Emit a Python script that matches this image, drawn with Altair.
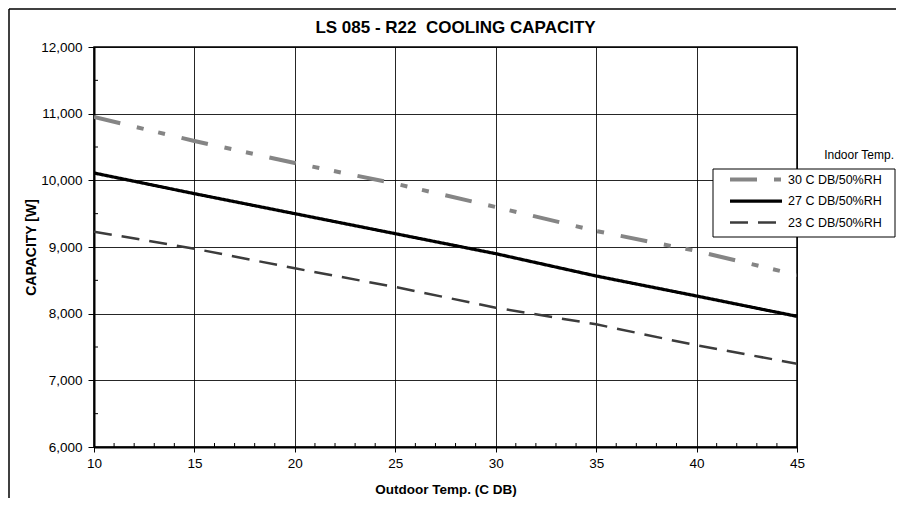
import altair as alt
import pandas as pd

# ---- data ----
outdoor = [10, 15, 20, 25, 30, 35, 40, 45]
cap_30 = [10950, 10590, 10260, 9950, 9600, 9240, 8940, 8580]
cap_27 = [10110, 9800, 9500, 9200, 8900, 8565, 8265, 7960]
cap_23 = [9230, 8975, 8680, 8400, 8090, 7840, 7525, 7250]
series_names = ["30 C DB/50%RH", "27 C DB/50%RH", "23 C DB/50%RH"]
x_ticks = [10, 15, 20, 25, 30, 35, 40, 45]
y_ticks = [6000, 7000, 8000, 9000, 10000, 11000, 12000]
x_minor = [v for v in range(10, 46) if v % 5 != 0]
y_minor = [6500, 7500, 8500, 9500, 10500, 11500]
title_text = "LS 085 - R22\u00a0 COOLING CAPACITY"
legend_title = "Indoor Temp."

rows = []
for name, vals in zip(series_names, [cap_30, cap_27, cap_23]):
    for x, y in zip(outdoor, vals):
        rows.append({"series": name, "outdoor": x, "capacity": y})
df = pd.DataFrame(rows)

W, H = 703, 400
FONT = "Liberation Sans"

xscale = alt.Scale(domain=[10, 45], nice=False, zero=False)
yscale = alt.Scale(domain=[6000, 12000], nice=False, zero=False)
color_scale = alt.Scale(domain=series_names, range=["#858585", "#000000", "#3c3c3c"])
dash_scale = alt.Scale(domain=series_names, range=[[27, 17, 7, 15, 7, 17], [1, 0], [18, 10]])
width_scale = alt.Scale(domain=series_names, range=[4, 2.5, 2.5])

x_axis = alt.Axis(values=x_ticks, format="d", title="Outdoor Temp. (C DB)", grid=True,
                  gridColor="#000000", gridWidth=1, gridOpacity=0.85,
                  domainColor="#000000", domainWidth=2, labelFlush=False,
                  tickColor="#000000", tickSize=5, tickWidth=1,
                  labelPadding=4, titlePadding=13, titleFontSize=13.5)
y_axis = alt.Axis(values=y_ticks, format=",.0f", title="CAPACITY [W]", grid=True,
                  gridColor="#000000", gridWidth=1, gridOpacity=0.85,
                  domainColor="#000000", domainWidth=2, labelFlush=False,
                  tickColor="#000000", tickSize=6, tickWidth=1,
                  labelPadding=6, titlePadding=2)

style_enc = dict(
    color=alt.Color("series:N", scale=color_scale, legend=None),
    strokeDash=alt.StrokeDash("series:N", scale=dash_scale, legend=None),
    strokeWidth=alt.StrokeWidth("series:N", scale=width_scale, legend=None),
)

lines = alt.Chart(df).mark_line(clip=True).encode(
    x=alt.X("outdoor:Q", scale=xscale, axis=x_axis),
    y=alt.Y("capacity:Q", scale=yscale, axis=y_axis),
    **style_enc,
)

minor_x = alt.Chart(pd.DataFrame({"v": x_minor})).mark_rule(color="#000000", strokeWidth=1).encode(
    x=alt.X("v:Q", scale=xscale, axis=x_axis), y=alt.value(H), y2=alt.value(H - 4))
minor_y = alt.Chart(pd.DataFrame({"v": y_minor})).mark_rule(color="#000000", strokeWidth=1).encode(
    y=alt.Y("v:Q", scale=yscale, axis=y_axis), x=alt.value(0), x2=alt.value(4))

title = alt.Chart(pd.DataFrame({"t": [title_text]})).mark_text(
    align="center", baseline="middle", font=FONT, fontSize=17, fontWeight="bold", color="#000000"
).encode(text="t:N", x=alt.value(361.5), y=alt.value(-19))

indoor = alt.Chart(pd.DataFrame({"t": [legend_title]})).mark_text(
    align="right", baseline="middle", font=FONT, fontSize=12, color="#000000", clip=False
).encode(text="t:N", x=alt.value(800), y=alt.value(108))

# outer chart frame (top and left edges, as visible in the reference)
frame_top = alt.Chart(pd.DataFrame({"a": [0]})).mark_rule(
    color="#000000", strokeWidth=1.5, clip=False
).encode(x=alt.value(-85), x2=alt.value(W + 99), y=alt.value(-38))
frame_left = alt.Chart(pd.DataFrame({"a": [0]})).mark_rule(
    color="#000000", strokeWidth=1.5, clip=False
).encode(x=alt.value(-85), y=alt.value(-38), y2=alt.value(H + 51))

# manual legend box + entries
legend_box = alt.Chart(pd.DataFrame({"a": [0]})).mark_rect(
    fill="#ffffff", stroke="#000000", strokeWidth=1, clip=False
).encode(x=alt.value(619), x2=alt.value(W + 98), y=alt.value(122), y2=alt.value(190))

legend_rows = [132.5, 154, 175.5]
legend_layers = []
for name, yy in zip(series_names, legend_rows):
    d = pd.DataFrame({"series": [name]})
    legend_layers.append(
        alt.Chart(d).mark_rule(clip=False).encode(
            x=alt.value(636), x2=alt.value(688), y=alt.value(yy), **style_enc)
    )
    legend_layers.append(
        alt.Chart(d).mark_text(align="left", baseline="middle", font=FONT, fontSize=12.5,
                               color="#000000", clip=False).encode(
            text="series:N", x=alt.value(694), y=alt.value(yy))
    )

chart = alt.layer(frame_top, frame_left, lines, minor_x, minor_y, title, indoor,
                  legend_box, *legend_layers).properties(
    width=W, height=H,
    padding={"left": 86, "top": 39, "right": 99, "bottom": 51},
    autosize=alt.AutoSizeParams(type="none"),
).configure_view(stroke="#000000", strokeWidth=1.5).configure_axis(
    labelFont=FONT, labelFontSize=13.5, labelColor="#000000",
    titleFont=FONT, titleFontSize=14, titleFontWeight="bold", titleColor="#000000",
)

chart.save("out.html", embed_options={"renderer": "svg", "actions": False})
